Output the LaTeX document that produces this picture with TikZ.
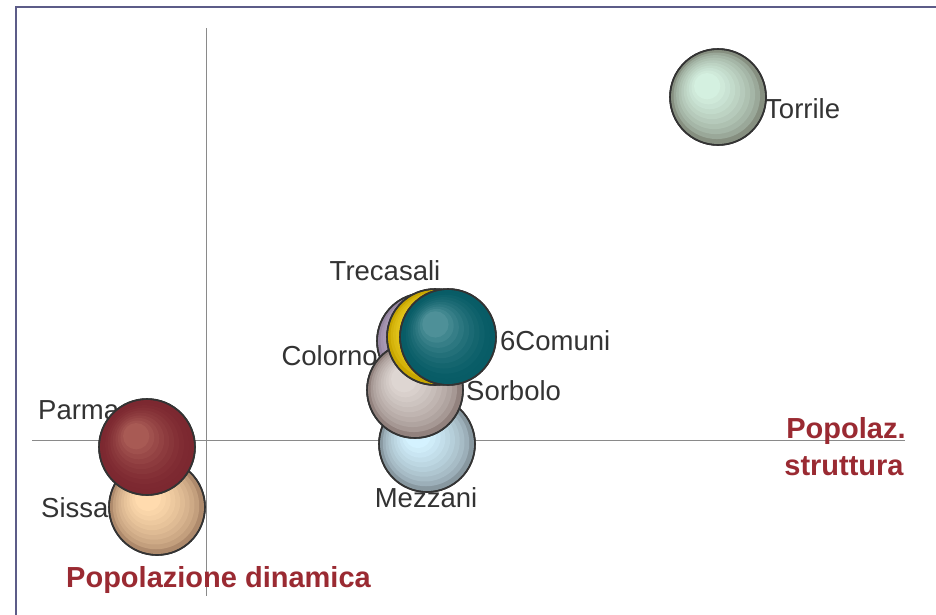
\documentclass[tikz,border=0pt]{standalone}
\usepackage{fontspec}
\setmainfont{Liberation Sans}
\usetikzlibrary{calc}
\definecolor{frameC}{HTML}{5C5C88}
\definecolor{axisC}{HTML}{8A8A8A}
\definecolor{labC}{HTML}{333333}
\definecolor{redC}{HTML}{9A2A32}
\definecolor{edgeC}{HTML}{333333}
\definecolor{torI}{HTML}{D4F0E0}\definecolor{torO}{HTML}{868F80}
\definecolor{parI}{HTML}{A85A54}\definecolor{parO}{HTML}{7C2830}
\definecolor{sisI}{HTML}{FFDBAE}\definecolor{sisO}{HTML}{AE8A6C}
\definecolor{mezI}{HTML}{D4F2FF}\definecolor{mezO}{HTML}{8898A0}
\definecolor{sorI}{HTML}{DED6D2}\definecolor{sorO}{HTML}{92827E}
\definecolor{colI}{HTML}{C4B4D0}\definecolor{colO}{HTML}{9686A2}
\definecolor{treI}{HTML}{F6D82C}\definecolor{treO}{HTML}{C8A600}
\definecolor{comI}{HTML}{4E9098}\definecolor{comO}{HTML}{085C66}
\newcommand{\bands}[5]{% #1 node, #2 outer, #3 inner, #4 offset, #5 exponent
  \foreach \k in {1,...,9} {
    \pgfmathsetmacro{\tt}{\k/10}
    \pgfmathtruncatemacro{\pc}{100*(\k/9)^#5}
    \pgfmathsetmacro{\rr}{47*(1-0.8*\tt)}
    \fill[#3!\pc!#2] ($(#1.center)+(-#4*\tt,-#4*\tt)$) circle (\rr pt);
  }
  \draw[edgeC, line width=1.6pt] (#1.center) circle (48pt);
}
\tikzset{
  bubble/.style={circle, draw=edgeC, line width=1.6pt, minimum size=96pt, inner sep=0pt},
  lab/.style={text=labC, font=\fontsize{27.5}{30}\selectfont, inner sep=0pt},
  axlab/.style={text=redC, font=\fontsize{29}{32}\selectfont\bfseries, inner sep=0pt},
  axisline/.style={draw=axisC, line width=1pt}
}
\begin{document}
\begin{tikzpicture}[x=1pt,y=-1pt]
\useasboundingbox (0,0) rectangle (936,614);
\fill[white] (0,0) rectangle (936,614);
\draw[frameC, line width=2pt] (940,7) -- (16,7) -- (16,620);
% axes
\coordinate (vtop) at (206,28);
\coordinate (vbot) at (206,596);
\coordinate (hleft) at (32,440);
\coordinate (hright) at (905,440);
\draw[axisline] (vtop) -- (vbot);
\draw[axisline] (hleft) -- (hright);
% labels
\node[lab, anchor=base west] (ltor) at (765,118) {Torrile};
\node[lab, anchor=base] (ltre) at (385,280) {Trecasali};
\node[lab, anchor=base east] (lcol) at (378,365) {Colorno};
\node[lab, anchor=base west] (lcom) at (500,350) {6Comuni};
\node[lab, anchor=base west] (lsor) at (466,400) {Sorbolo};
\node[lab, anchor=base west] (lpar) at (38,419) {Parma};
\node[lab, anchor=base west] (lsis) at (41,517) {Sissa};
\node[lab, anchor=base] (lmez) at (426,507) {Mezzani};
\node[axlab, anchor=base] (lpop1) at (846,438) {Popolaz.};
\node[axlab, anchor=base] (lpop2) at (844,475) {struttura};
\node[axlab, anchor=base west] (ldin) at (66,587) {Popolazione dinamica};
% bubbles
\node[bubble, fill=torO] (torrile) at (718,97) {}; \bands{torrile}{torO}{torI}{12}{0.6}
\node[bubble, fill=sisO] (sissa) at (157,507) {}; \bands{sissa}{sisO}{sisI}{10}{0.6}
\node[bubble, fill=parO] (parma) at (147,447) {}; \bands{parma}{parO}{parI}{12}{1.6}
\node[bubble, fill=mezO] (mezzani) at (427,444) {}; \bands{mezzani}{mezO}{mezI}{10}{0.6}
\node[bubble, fill=colO] (colorno) at (425,341) {}; \bands{colorno}{colO}{colI}{12}{0.6}
\node[bubble, fill=sorO] (sorbolo) at (415,390) {}; \bands{sorbolo}{sorO}{sorI}{12}{0.6}
\node[bubble, fill=treO] (trecasali) at (435,337) {}; \bands{trecasali}{treO}{treI}{12}{0.6}
\node[bubble, fill=comO] (comuni) at (448,337) {}; \bands{comuni}{comO}{comI}{14}{1.6}
\end{tikzpicture}
\end{document}
